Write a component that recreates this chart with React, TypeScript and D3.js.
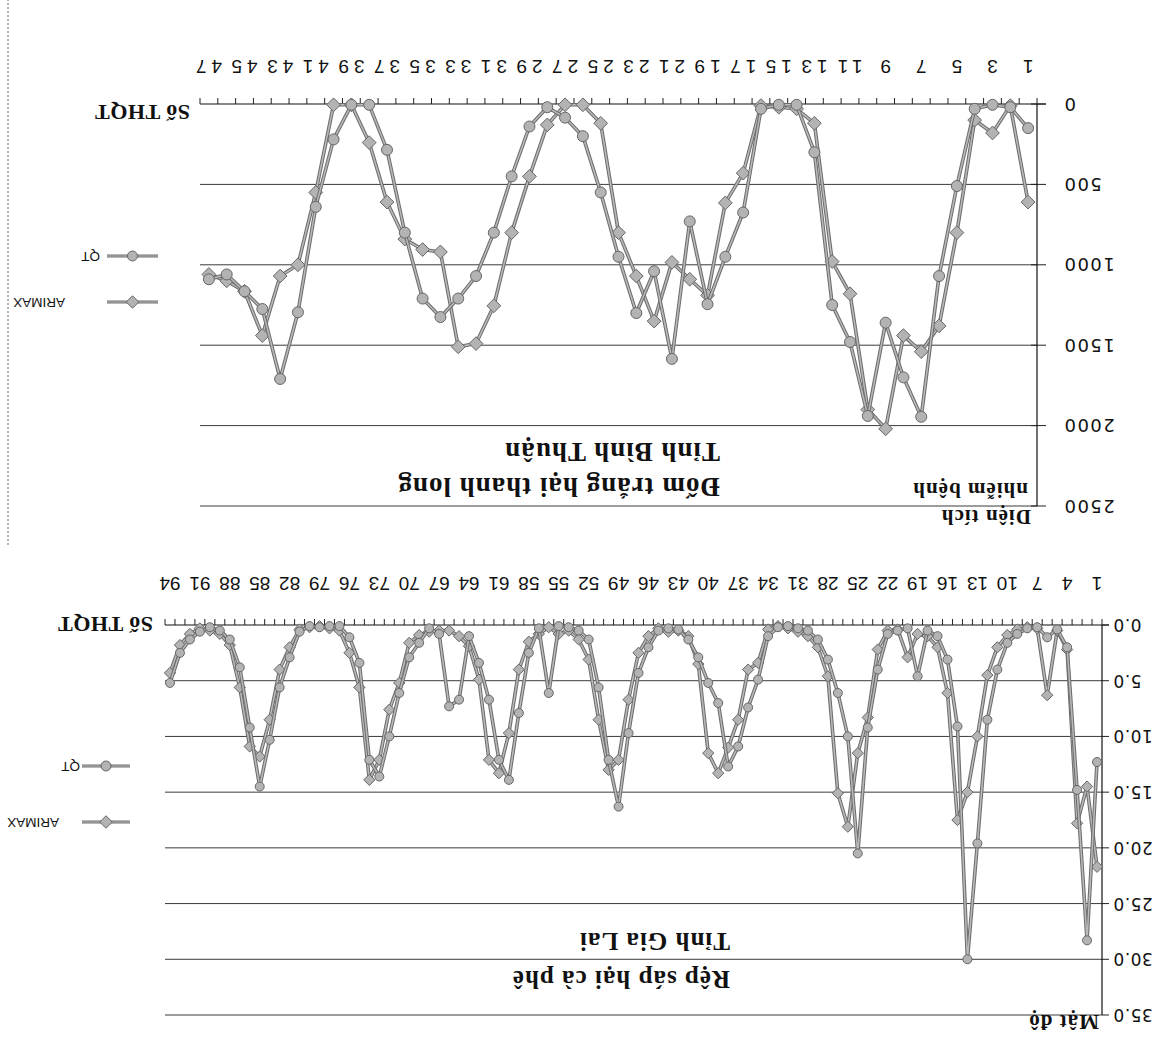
import React from 'react';
import * as d3 from 'd3';

const W = 1175;
const H = 1045;

// Tỉnh Bình Thuận – đốm trắng hại thanh long (diện tích nhiễm bệnh)
const thuanPeriods = d3.range(1, 48);
const thuanQT = [150, 20, 5, 30, 510, 1070, 1945, 1700, 1360, 1940, 1480, 1250, 300, 5, 5, 30, 675, 950, 1245, 730,
  1585, 1040, 1300, 950, 550, 200, 85, 20, 140, 450, 800, 1070, 1210, 1325, 1210, 800, 285, 5, 5, 220,
  640, 1295, 1710, 1275, 1165, 1060, 1090];
const thuanARIMAX = [610, 10, 180, 100, 800, 1380, 1540, 1440, 2020, 1900, 1180, 980, 120, 30, 20, 10, 430, 615, 1190, 1090,
  985, 1350, 1070, 800, 120, 5, 5, 130, 450, 800, 1255, 1490, 1510, 920, 905, 840, 610, 240, 5, 5,
  550, 1000, 1070, 1440, 1165, 1100, 1060];
const thuanYTicks = [0, 500, 1000, 1500, 2000, 2500];

// Tỉnh Gia Lai – rệp sáp hại cà phê (mật độ)
const laiPeriods = d3.range(1, 95);
const laiQT = [12.3, 28.3, 14.8, 2.0, 0.4, 1.1, 0.2, 0.3, 0.8, 1.6, 4.0, 8.5, 19.6, 30.0, 9.1, 3.1, 1.0, 0.5, 4.6, 0.3,
  0.5, 0.8, 4.0, 9.2, 20.5, 10.0, 6.1, 3.1, 1.3, 0.5, 0.3, 0.1, 0.2, 1.0, 4.9, 7.4, 10.9, 12.7, 7.0, 5.2,
  2.9, 1.3, 0.4, 0.3, 0.5, 2.0, 4.3, 9.7, 16.3, 12.1, 5.6, 1.3, 0.5, 0.2, 0.1, 6.1, 0.3, 2.5, 7.9, 13.9,
  12.1, 6.7, 3.4, 1.0, 6.7, 7.3, 0.8, 0.3, 1.6, 2.9, 6.1, 10.0, 13.6, 12.1, 3.4, 1.1, 0.1, 0.1, 0.2, 0.1,
  0.6, 2.9, 5.6, 10.3, 14.5, 9.2, 3.8, 1.3, 0.5, 0.2, 0.6, 1.3, 2.5, 5.2];
const laiARIMAX = [21.7, 14.5, 17.8, 2.2, 0.5, 6.3, 0.3, 0.2, 0.4, 0.9, 2.0, 4.5, 10.0, 15.0, 17.5, 6.1, 2.0, 1.0, 0.8, 2.9,
  0.4, 0.5, 2.2, 8.3, 11.5, 18.1, 15.1, 4.6, 2.0, 1.0, 0.6, 0.3, 0.1, 0.4, 3.4, 4.0, 8.5, 11.0, 13.3, 11.5,
  3.5, 1.0, 0.5, 0.6, 0.3, 1.0, 2.5, 6.7, 12.1, 13.0, 8.5, 3.1, 1.3, 0.5, 0.8, 0.2, 0.8, 1.5, 4.0, 9.7,
  13.3, 12.1, 4.9, 1.9, 1.0, 0.5, 0.5, 0.6, 0.9, 1.6, 5.2, 7.6, 12.1, 13.9, 5.6, 2.5, 0.5, 0.3, 0.1, 0.2,
  0.4, 2.0, 4.0, 8.5, 11.8, 10.9, 5.6, 1.8, 0.8, 0.5, 0.3, 0.8, 1.8, 4.3];
const laiYTicks = [0, 5, 10, 15, 20, 25, 30, 35];

const SERIF = '"Liberation Serif", "Times New Roman", serif';
const SANS = '"Liberation Sans", Arial, sans-serif';
const DEJA = '"DejaVu Sans", Verdana, sans-serif';

const diamond = (r) => `M0,${-r}L${r},0L0,${r}L${-r},0Z`;

function Marker({ kind, x, y, r }) {
  if (kind === 'diamond')
    return <path d={diamond(r * 1.25)} transform={`translate(${x},${y})`} fill="#b3b3b3" stroke="#666" strokeWidth={1} />;
  return <circle cx={x} cy={y} r={r} fill="#b3b3b3" stroke="#666" strokeWidth={1} />;
}

function Series({ periods, values, x, y, kind, r }) {
  const line = d3.line<number>()
    .x((_, i) => x(periods[i])! + x.bandwidth() / 2)
    .y(d => y(d));
  const d = line(values) || '';
  return (
    <g>
      <path d={d} fill="none" stroke="#6e6e6e" strokeWidth={3.6} strokeLinejoin="round" />
      <path d={d} fill="none" stroke="#bababa" strokeWidth={1.5} strokeLinejoin="round" />
      {values.map((v, i) => (
        <Marker key={i} kind={kind} x={x(periods[i])! + x.bandwidth() / 2} y={y(v)} r={r} />
      ))}
    </g>
  );
}

function Panel({ periods, qt, arimax, yTicks, yFmt, box, labelStep, xLabel, yLabel, markerR, yTickOut, yTickIn }) {
  const x = d3.scaleBand<number>().domain(periods).range([box.left, box.right]).padding(0);
  const y = d3.scaleLinear().domain([0, yTicks[yTicks.length - 1]]).range([box.bottom, box.top]);
  const bounds = periods.map(p => x(p)!).concat([box.right]);
  return (
    <g>
      {yTicks.slice(1).map(t => (
        <line key={t} x1={box.left} x2={box.right} y1={y(t)} y2={y(t)} stroke="#3a3a3a" strokeWidth={1} />
      ))}
      {yTicks.map(t => (
        <line key={'t' + t} x1={box.left - yTickOut} x2={box.left + yTickIn} y1={y(t)} y2={y(t)} stroke="#222" />
      ))}
      <line x1={box.left} x2={box.left} y1={y(0)} y2={box.top} stroke="#111" strokeWidth={1.2} />
      <line x1={box.left - yTickOut} x2={box.right} y1={y(0)} y2={y(0)} stroke="#111" strokeWidth={1.2} />
      {bounds.map((b, i) => (
        <line key={'x' + i} x1={b} x2={b} y1={y(0)} y2={y(0) + 6} stroke="#222" />
      ))}
      {yTicks.map(t => (
        <text key={'l' + t} x={yLabel.x} y={y(t)} textAnchor="end" dominantBaseline="central"
          fontFamily={DEJA} fontSize={yLabel.size} letterSpacing={yLabel.ls} fill="#111">{yFmt(t)}</text>
      ))}
      {periods.filter((_, i) => i % labelStep === 0).map(p => (
        <text key={'p' + p} x={x(p)! + x.bandwidth() / 2 + xLabel.ls / 2} y={y(0) + xLabel.dy} textAnchor="middle"
          fontFamily={xLabel.font} fontSize={xLabel.size} letterSpacing={xLabel.ls} fill="#111">{p}</text>
      ))}
      <Series periods={periods} values={arimax} x={x} y={y} kind="diamond" r={markerR} />
      <Series periods={periods} values={qt} x={x} y={y} kind="circle" r={markerR} />
    </g>
  );
}

function LegendItem({ x1, x2, y, label, tx, kind }) {
  return (
    <g>
      <line x1={x1} x2={x2} y1={y} y2={y} stroke="#6e6e6e" strokeWidth={3} />
      <line x1={x1} x2={x2} y1={y} y2={y} stroke="#bababa" strokeWidth={1.2} />
      <Marker kind={kind} x={(x1 + x2) / 2} y={y} r={5} />
      <text x={tx} y={y} dominantBaseline="central" fontFamily={SANS} fontSize={13.5} fill="#111">{label}</text>
    </g>
  );
}

function Bold({ x, y, size, children, ls = 0.5 }) {
  return (
    <text x={x} y={y} fontFamily={SERIF} fontWeight="bold" fontSize={size} letterSpacing={ls} fill="#111">{children}</text>
  );
}

export default function App() {
  const topBox = { left: 138, right: 975, top: 539, bottom: 941 };
  const botBox = { left: 73, right: 1010, top: 30, bottom: 420 };
  return (
    <svg width={W} height={H} style={{ position: 'absolute', left: 0, top: 0, background: '#fff' }}>
      <rect width={W} height={H} fill="#fff" />
      <g transform={`rotate(180 ${W / 2} ${H / 2})`}>
        <line x1={1167} x2={1167} y1={500} y2={H} stroke="#666" strokeDasharray="2,2" />

        <Panel periods={thuanPeriods} qt={thuanQT} arimax={thuanARIMAX} yTicks={thuanYTicks}
          yFmt={d3.format('d')} box={topBox} labelStep={2} markerR={5.5} yTickOut={9} yTickIn={6}
          xLabel={{ dy: 44, size: 19, ls: 5, font: SANS }} yLabel={{ x: 112, size: 18, ls: 1.5 }} />
        <Bold x={455} y={567} size={27} ls={1}>Đốm trắng hại thanh long</Bold>
        <Bold x={455} y={602} size={27} ls={1}>Tỉnh Bình Thuận</Bold>
        <Bold x={144} y={535} size={21} ls={1}>Diện tích</Bold>
        <Bold x={147} y={562} size={21} ls={1}>nhiễm bệnh</Bold>
        <Bold x={985} y={940} size={22}>Số THQT</Bold>
        <LegendItem x1={1017} x2={1068} y={743} label="ARIMAX" tx={1110} kind="diamond" />
        <LegendItem x1={1017} x2={1068} y={789} label="QT" tx={1075} kind="circle" />

        <Panel periods={laiPeriods} qt={laiQT} arimax={laiARIMAX} yTicks={laiYTicks}
          yFmt={d3.format('.1f')} box={botBox} labelStep={3} markerR={4.5} yTickOut={7} yTickIn={0}
          xLabel={{ dy: 48, size: 19, ls: 0, font: SANS }} yLabel={{ x: 62, size: 17, ls: 0.5 }} />
        <Bold x={445} y={74} size={25} ls={1}>Rệp sáp hại cà phê</Bold>
        <Bold x={445} y={112} size={25} ls={1}>Tỉnh Gia Lai</Bold>
        <Bold x={76} y={30} size={21} ls={1}>Mật độ</Bold>
        <Bold x={1022} y={428} size={22}>Số THQT</Bold>
        <LegendItem x1={1045} x2={1093} y={223} label="ARIMAX" tx={1116} kind="diamond" />
        <LegendItem x1={1045} x2={1093} y={279} label="QT" tx={1095} kind="circle" />
      </g>
    </svg>
  );
}
